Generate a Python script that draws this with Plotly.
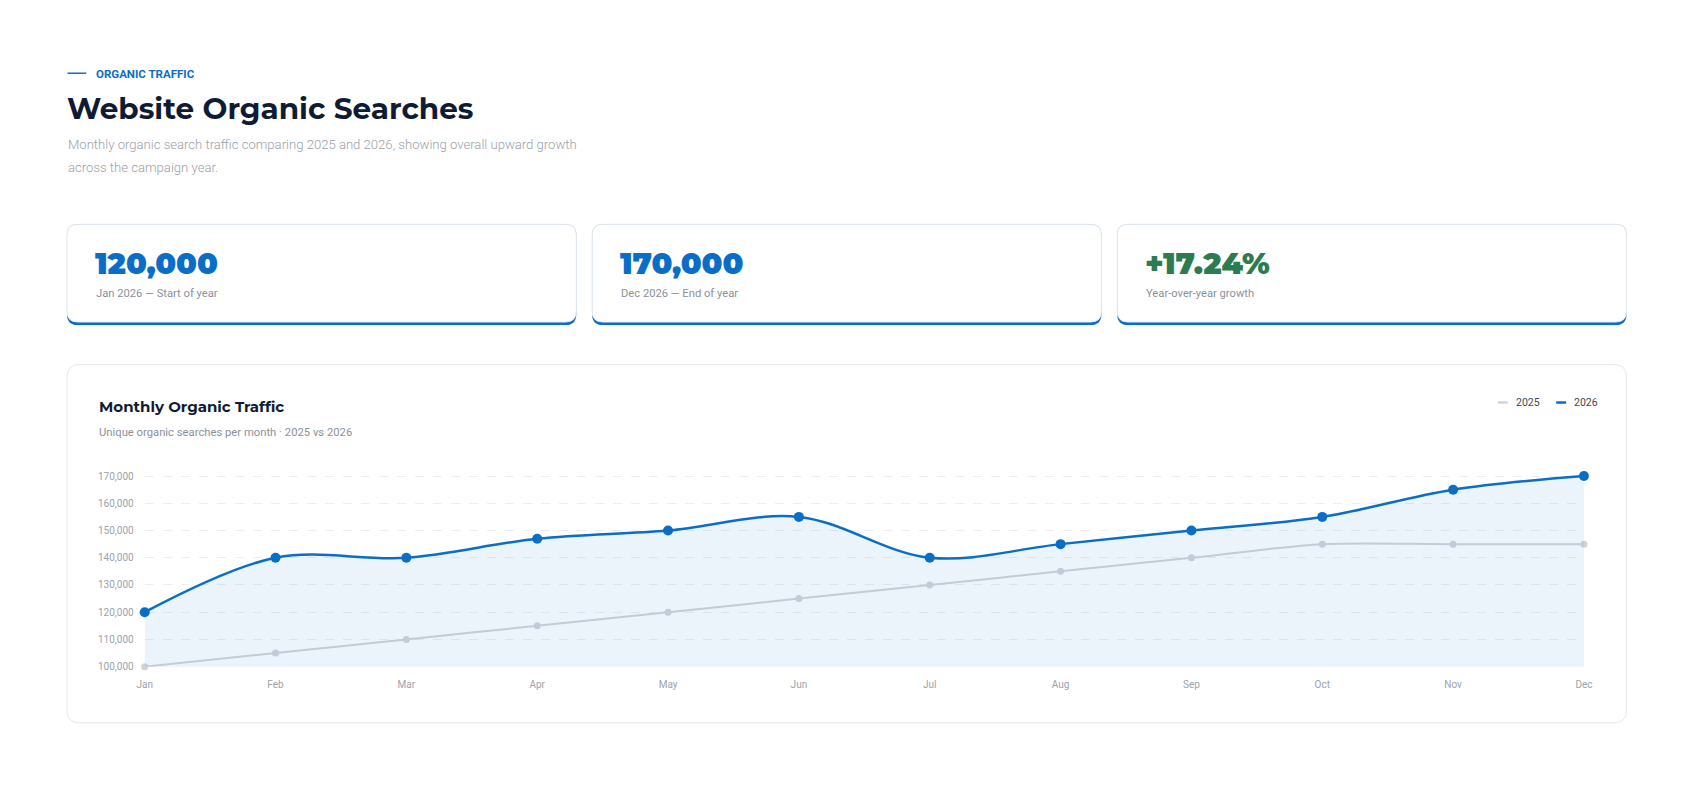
import plotly.graph_objects as go

# Data
months = ["Jan", "Feb", "Mar", "Apr", "May", "Jun",
          "Jul", "Aug", "Sep", "Oct", "Nov", "Dec"]
traffic_2025 = [100000, 105000, 110000, 115000, 120000, 125000,
                130000, 135000, 140000, 145000, 145000, 145000]
traffic_2026 = [120000, 140000, 140000, 147000, 150000, 155000,
                140000, 145000, 150000, 155000, 165000, 170000]
y_ticks = [100000, 110000, 120000, 130000, 140000, 150000, 160000, 170000]

kpi_values = ["120,000", "170,000", "+17.24%"]
kpi_labels = ["Jan 2026 \u2014 Start of year", "Dec 2026 \u2014 End of year",
              "Year-over-year growth"]
kpi_colors = ["#0a6ec7", "#0a6ec7", "#2c7c4f"]

BLUE = "#0a6ec7"
GREY = "#d0d4d9"
HEAD = "Montserrat, 'Open Sans', sans-serif"
BODY = "Roboto, sans-serif"

# the page keeps an 8px body margin, so positions below are page pixels
W, H = 1678, 793


def px(x):
    return (x - 8) / W


def py(y):
    return 1 - (y - 8) / H


def rounded_rect(x0, y0, x1, y1, r):
    # rounded rectangle path in paper coords, input in page pixels
    pts = [
        f"M {px(x0 + r)},{py(y0)}",
        f"L {px(x1 - r)},{py(y0)}",
        f"Q {px(x1)},{py(y0)} {px(x1)},{py(y0 + r)}",
        f"L {px(x1)},{py(y1 - r)}",
        f"Q {px(x1)},{py(y1)} {px(x1 - r)},{py(y1)}",
        f"L {px(x0 + r)},{py(y1)}",
        f"Q {px(x0)},{py(y1)} {px(x0)},{py(y1 - r)}",
        f"L {px(x0)},{py(y0 + r)}",
        f"Q {px(x0)},{py(y0)} {px(x0 + r)},{py(y0)}",
        "Z",
    ]
    return " ".join(pts)


def label(text, x, y, size, color, family=BODY, weight=400):
    return dict(text=text, x=px(x), y=py(y), xref="paper", yref="paper",
                xanchor="left", yanchor="middle", showarrow=False,
                font=dict(family=family, size=size, color=color, weight=weight))


fig = go.Figure()

fig.add_trace(go.Scatter(
    x=months, y=traffic_2025, name="2025", mode="lines+markers",
    line=dict(color=GREY, width=2, shape="spline", smoothing=0.8),
    marker=dict(color=GREY, size=7), cliponaxis=False,
))
fig.add_trace(go.Scatter(
    x=months, y=traffic_2026, name="2026", mode="lines+markers",
    line=dict(color=BLUE, width=2.5, shape="spline", smoothing=1.0),
    marker=dict(color=BLUE, size=10),
    fill="tozeroy", fillcolor="rgba(10,110,199,0.08)", cliponaxis=False,
))

shapes = []
annotations = []

# header
shapes.append(dict(type="line", xref="paper", yref="paper",
                   x0=px(60), x1=px(79), y0=py(70), y1=py(70),
                   line=dict(color=BLUE, width=1.5)))
annotations.append(label("ORGANIC TRAFFIC", 87, 70.5, 11.5, BLUE, weight=700))
annotations.append(label("Website Organic Searches", 58, 105, 29.5, "#0f1b33", HEAD, 700))
annotations.append(label("Monthly organic search traffic comparing 2025 and 2026, showing overall upward growth",
                         59, 142, 13.1, "#9aa1aa", weight=300))
annotations.append(label("across the campaign year.", 59, 165, 13.1, "#9aa1aa", weight=300))

# KPI cards
card_x = [(59.5, 574), (590, 1104.5), (1120.5, 1635)]
for (x0, x1), val, lab, col in zip(card_x, kpi_values, kpi_labels, kpi_colors):
    shapes.append(dict(type="path", xref="paper", yref="paper",
                       path=rounded_rect(x0, 223, x1, 325, 11),
                       fillcolor=BLUE, line=dict(width=0), layer="below"))
    shapes.append(dict(type="path", xref="paper", yref="paper",
                       path=rounded_rect(x0, 223, x1, 322, 11),
                       fillcolor="white", line=dict(color="#e3e7eb", width=1), layer="below"))
    annotations.append(label(val, x0 + 26, 263, 30.2, col, HEAD, 900))
    annotations.append(label(lab, x0 + 27.5, 293, 11.2, "#8b919a"))

# chart card
shapes.append(dict(type="path", xref="paper", yref="paper",
                   path=rounded_rect(59.5, 365, 1635, 728, 13),
                   fillcolor="white", line=dict(color="#e5e8eb", width=1), layer="below"))
annotations.append(label("Monthly Organic Traffic", 90, 408, 15, "#0f1b33", HEAD, 700))
annotations.append(label("Unique organic searches per month \u00b7 2025 vs 2026",
                         90, 434, 11.25, "#8b919a"))

# legend
for x0, lab, col in [(1505, "2025", GREY), (1564, "2026", BLUE)]:
    shapes.append(dict(type="line", xref="paper", yref="paper",
                       x0=px(x0), x1=px(x0 + 10), y0=py(403.5), y1=py(403.5),
                       line=dict(color=col, width=2.5)))
    annotations.append(label(lab, x0 + 16, 403.5, 10.5, "#3f4652"))

# 2px of headroom above 170k so its gridline is drawn
fig.update_layout(
    width=W, height=H,
    margin=dict(l=0, r=0, t=0, b=0),
    paper_bgcolor="white", plot_bgcolor="rgba(0,0,0,0)",
    showlegend=False,
    shapes=shapes, annotations=annotations,
    xaxis=dict(domain=[px(138), px(1592)], range=[0, 11],
               showgrid=False, zeroline=False, showline=False, ticks="",
               ticklabelstandoff=10,
               tickfont=dict(family=BODY, size=10, color="#9ca2ab")),
    yaxis=dict(domain=[py(671), py(476)], range=[100000, 170725],
               tickvals=y_ticks, tickformat=",",
               showgrid=True, gridcolor="#eceef2", griddash="dash", gridwidth=1,
               zeroline=False, showline=False, ticks="",
               ticklabelstandoff=10,
               tickfont=dict(family=BODY, size=10, color="#9ca2ab")),
    hovermode="x unified",
)

fig.write_html("out.html")
